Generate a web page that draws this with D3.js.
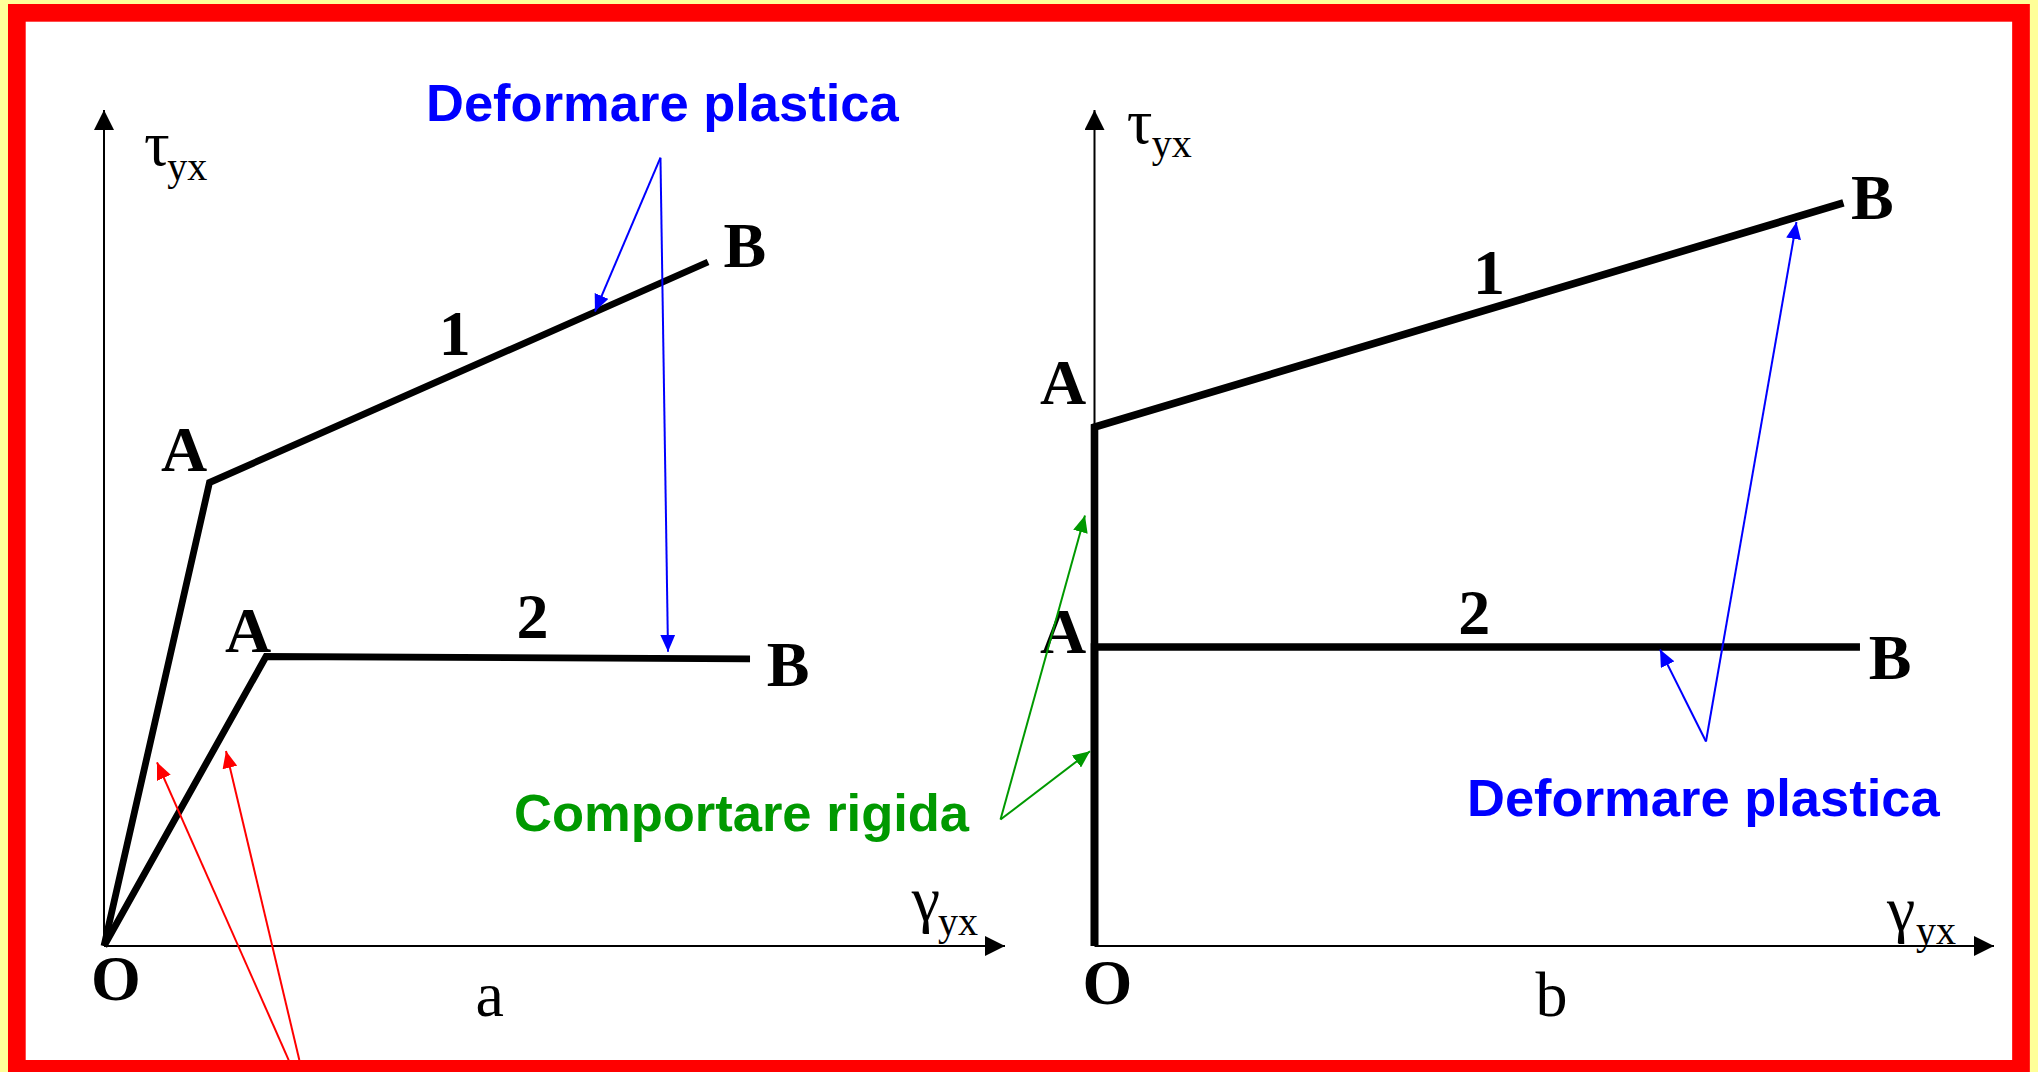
<!DOCTYPE html>
<html>
<head>
<meta charset="utf-8">
<script src="https://cdn.jsdelivr.net/npm/d3@7"></script>
<style>
  html, body { margin: 0; padding: 0; background: #FFFF99; overflow: hidden; }
  svg { display: block; }
</style>
</head>
<body>
<svg id="chart"></svg>
<script>
// Shear stress–strain diagrams: (a) elastic + plastic, (b) rigid + plastic.
// Axis units are arbitrary (0..10 on both axes).

// Panel a – curve 1 (hardening) and curve 2 (ideal plastic): points O, A, B
const curveA1 = [[0, 0], [1.171, 5.544], [6.704, 8.182]];
const curveA2 = [[0, 0], [1.798, 3.463], [7.170, 3.435]];
// Panel b – rigid up to A, then plastic A→B
const curveB1 = [[0, 0], [0, 6.208], [8.326, 8.888]];
const curveB2 = [[0, 0], [0, 3.577], [8.510, 3.577]];

const pointNames = ["O", "A", "B"];
const curveNames = ["1", "2"];
const panelNames = ["a", "b"];
const axisSymbols = { x: "γ", y: "τ", sub: "yx" };

// Annotation arrows (data units of the panel they point into)
const plasticLabel = "Deformare plastica";
const rigidLabel = "Comportare rigida";
const plastApexA = [6.176, 9.430];
const plastTargetsA = [[5.449, 7.589], [6.260, 3.520]];
const elasticStartsA = [[2.050, -1.364], [2.168, -1.364]];
const elasticTargetsA = [[0.588, 2.197], [1.354, 2.333]];
const rigidApexB = [-1.045, 1.513];
const rigidTargetsB = [[-0.106, 5.150], [-0.050, 2.330]];
const plastApexB = [6.798, 2.446];
const plastTargetsB = [[7.804, 8.660], [6.287, 3.547]];

const W = 2038, H = 1072;
const svg = d3.select("#chart").attr("width", W).attr("height", H);

svg.append("rect").attr("width", W).attr("height", H).attr("fill", "#FFFF99");
svg.append("rect")
  .attr("x", 16.85).attr("y", 12.85).attr("width", 2004.15).attr("height", 1056)
  .attr("fill", "#ffffff");

// Arrowhead markers
const defs = svg.append("defs");
function addHead(id, color, len, wid) {
  defs.append("marker")
    .attr("id", id)
    .attr("markerUnits", "userSpaceOnUse")
    .attr("viewBox", `0 ${-wid / 2} ${len} ${wid}`)
    .attr("refX", len).attr("refY", 0)
    .attr("markerWidth", len).attr("markerHeight", wid)
    .attr("orient", "auto")
    .append("path")
    .attr("d", `M0,${-wid / 2}L${len},0L0,${wid / 2}Z`)
    .attr("fill", color);
}
addHead("headAxis", "#000000", 20, 20);
addHead("headBlue", "#0000FF", 17, 15);
addHead("headGreen", "#009900", 17, 15);
addHead("headRed", "#FF0000", 17, 15);

const serif = "'Liberation Serif', 'Times New Roman', serif";
const sans = "'Liberation Sans', Arial, sans-serif";

const panels = [
  {
    name: panelNames[0],
    x: d3.scaleLinear().domain([0, 10]).range([104, 1005]),
    y: d3.scaleLinear().domain([0, 10]).range([946, 110]),
    curves: [curveA1, curveA2],
    width: 6.8,
    // label offsets (px) from the points they name
    lab: {
      A: [[-25.5, -11.5], [-18, -4]],
      B: [[36.7, 5], [38, 27]],
      num: [[-4, -17], [24.5, -19.6]],
      O: [12, 54],
      panel: [4.28, 1015.6],
      tau: [144, 165, 167.3, 180],
      gam: [911.7, 919.5, 938, 935]
    }
  },
  {
    name: panelNames[1],
    x: d3.scaleLinear().domain([0, 10]).range([1094.5, 1994]),
    y: d3.scaleLinear().domain([0, 10]).range([946, 110]),
    curves: [curveB1, curveB2],
    width: 7.6,
    lab: {
      A: [[-31.5, -23], [-31.5, 5.7]],
      B: [[29, 15.7], [30, 31.6]],
      num: [[20, -20.6], [-3, -13.3]],
      O: [13, 57.6],
      panel: [5.08, 1015.7],
      tau: [1126.7, 143.3, 1151.7, 156.7],
      gam: [1887, 929.5, 1916, 944]
    }
  }
];

const content = svg.append("g");

panels.forEach(p => {
  const g = content.append("g").attr("class", "panel-" + p.name);
  const x = p.x, y = p.y;
  const [x0, x1] = x.domain(), [y0, y1] = y.domain();

  // axes with arrowheads
  const axisLine = d3.line().x(d => x(d[0])).y(d => y(d[1]));
  g.append("path").attr("d", axisLine([[x0, y0], [x1, y0]]))
    .attr("stroke", "#000").attr("stroke-width", 2).attr("fill", "none")
    .attr("marker-end", "url(#headAxis)");
  g.append("path").attr("d", axisLine([[x0, y0], [x0, y1]]))
    .attr("stroke", "#000").attr("stroke-width", 2).attr("fill", "none")
    .attr("marker-end", "url(#headAxis)");

  // curves
  const line = d3.line().x(d => x(d[0])).y(d => y(d[1]));
  g.selectAll("path.curve").data(p.curves).join("path")
    .attr("class", "curve")
    .attr("d", line)
    .attr("fill", "none").attr("stroke", "#000")
    .attr("stroke-width", p.width)
    .attr("stroke-linejoin", "miter").attr("stroke-linecap", "butt");

  // point and curve labels
  const bold = t => g.append("text").text(t)
    .attr("font-family", serif).attr("font-weight", "bold")
    .attr("font-size", 64).attr("text-anchor", "middle").attr("fill", "#000");
  p.curves.forEach((c, i) => {
    const A = c[1], B = c[2];
    bold(pointNames[1]).attr("x", x(A[0]) + p.lab.A[i][0]).attr("y", y(A[1]) + p.lab.A[i][1]);
    bold(pointNames[2]).attr("x", x(B[0]) + p.lab.B[i][0]).attr("y", y(B[1]) + p.lab.B[i][1]);
    const mx = (x(A[0]) + x(B[0])) / 2, my = (y(A[1]) + y(B[1])) / 2;
    bold(curveNames[i]).attr("x", mx + p.lab.num[i][0]).attr("y", my + p.lab.num[i][1]);
  });
  bold(pointNames[0]).attr("x", x(0) + p.lab.O[0]).attr("y", y(0) + p.lab.O[1]);

  // panel letter
  g.append("text").text(p.name)
    .attr("x", x(p.lab.panel[0])).attr("y", p.lab.panel[1])
    .attr("font-family", serif).attr("font-size", 64)
    .attr("text-anchor", "middle").attr("fill", "#000");

  // axis symbols with subscripts
  const sym = (t, pos) => {
    g.append("text").text(t).attr("x", pos[0]).attr("y", pos[1])
      .attr("font-family", serif).attr("font-size", 64).attr("fill", "#000");
    g.append("text").text(axisSymbols.sub).attr("x", pos[2]).attr("y", pos[3])
      .attr("font-family", serif).attr("font-size", 40).attr("fill", "#000");
  };
  sym(axisSymbols.y, p.lab.tau);
  sym(axisSymbols.x, p.lab.gam);
});

// Annotation arrows
function fan(scX, scY, apex, targets, color, head, width) {
  targets.forEach(t => {
    content.append("line")
      .attr("x1", scX(apex[0])).attr("y1", scY(apex[1]))
      .attr("x2", scX(t[0])).attr("y2", scY(t[1]))
      .attr("stroke", color).attr("stroke-width", width)
      .attr("marker-end", `url(#${head})`);
  });
}
const pa = panels[0], pb = panels[1];
fan(pa.x, pa.y, plastApexA, plastTargetsA, "#0000FF", "headBlue", 2);
elasticStartsA.forEach((s, i) => fan(pa.x, pa.y, s, [elasticTargetsA[i]], "#FF0000", "headRed", 2));
fan(pb.x, pb.y, rigidApexB, rigidTargetsB, "#009900", "headGreen", 2);
fan(pb.x, pb.y, plastApexB, plastTargetsB, "#0000FF", "headBlue", 2);

// Annotation captions
const caption = (t, x, y, color) => content.append("text").text(t)
  .attr("x", x).attr("y", y)
  .attr("font-family", sans).attr("font-weight", "bold")
  .attr("font-size", 52.5).attr("fill", color);
caption(plasticLabel, 426, 120.5, "#0000FF");
caption(rigidLabel, 514, 830.7, "#009900");
caption(plasticLabel, 1467, 816.2, "#0000FF");

// Red frame on top
svg.append("rect")
  .attr("x", 16.85).attr("y", 12.85).attr("width", 2004.15).attr("height", 1056)
  .attr("fill", "none").attr("stroke", "#FF0000").attr("stroke-width", 17.7);
</script>
</body>
</html>
